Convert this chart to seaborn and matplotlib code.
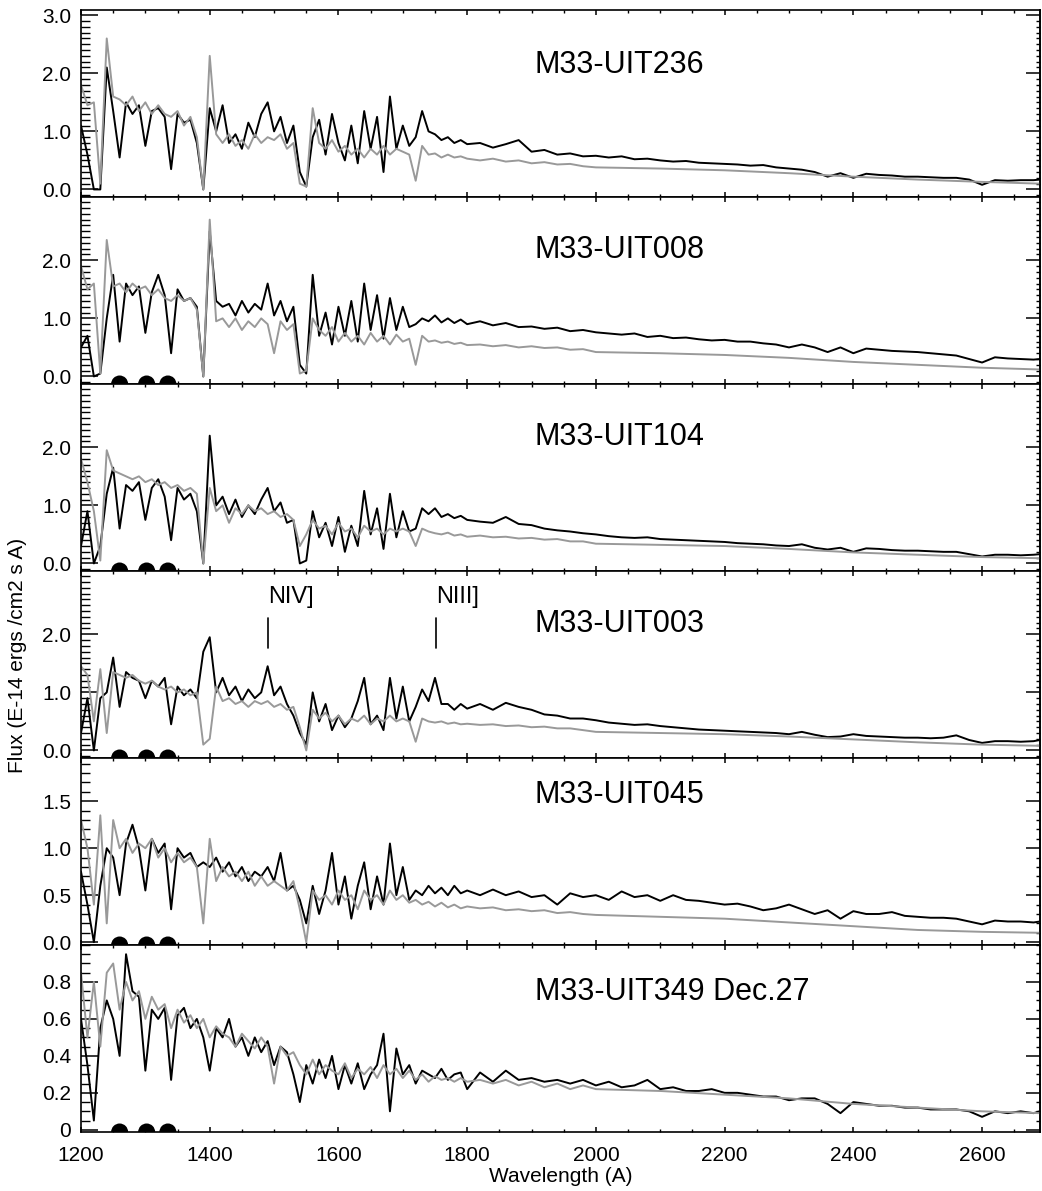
import numpy as np
import matplotlib
matplotlib.use("Agg")
import matplotlib.pyplot as plt
from matplotlib.ticker import MultipleLocator
import seaborn as sns

# wavelength grids (A): observed spectra run to 2690, model is noisy up to 2000 then smooth
wave_uv = np.arange(1200, 1801, 10)
wave_nuv = np.append(np.arange(1820, 2681, 20), 2690)
wave_obs = np.concatenate([wave_uv, wave_nuv])
wave_mod = np.concatenate([wave_uv, np.arange(1820, 2001, 20),
                           [2100, 2200, 2300, 2400, 2500, 2600, 2690]])

names = ["M33-UIT236", "M33-UIT008", "M33-UIT104", "M33-UIT003", "M33-UIT045", "M33-UIT349 Dec.27"]

# observed flux (black), E-14 ergs/cm2/s/A
obs_236 = [1.1, 0.6, 0.0, 0.0, 2.1, 1.35, 0.55, 1.5, 1.3, 1.45,
           0.75, 1.35, 1.4, 1.25, 0.35, 1.3, 1.15, 1.2, 0.8, 0.0,
           1.4, 1.0, 1.45, 0.8, 0.95, 0.7, 1.15, 0.9, 1.3, 1.5,
           1.0, 1.25, 0.8, 1.1, 0.3, 0.05, 0.9, 1.2, 0.6, 1.3,
           0.8, 0.5, 1.1, 0.45, 1.35, 0.7, 1.25, 0.3, 1.6, 0.7,
           1.1, 0.75, 0.9, 1.35, 1.0, 0.95, 0.85, 0.9, 0.8, 0.85,
           0.78,
           0.8, 0.72, 0.78, 0.85, 0.65, 0.68, 0.6, 0.62, 0.57, 0.58,
           0.55, 0.57, 0.52, 0.53, 0.5, 0.48, 0.49, 0.46, 0.45, 0.44,
           0.43, 0.41, 0.42, 0.38, 0.36, 0.34, 0.3, 0.22, 0.28, 0.2,
           0.27, 0.25, 0.24, 0.22, 0.22, 0.21, 0.2, 0.2, 0.17, 0.08,
           0.16, 0.15, 0.16, 0.16, 0.17]
obs_008 = [0.5, 0.7, 0.0, 0.05, 1.0, 1.75, 0.6, 1.6, 1.4, 1.55,
           0.75, 1.45, 1.75, 1.4, 0.4, 1.5, 1.3, 1.35, 1.2, 0.0,
           2.5, 1.3, 1.2, 1.25, 1.05, 1.3, 1.1, 1.25, 1.15, 1.6,
           1.05, 1.3, 0.95, 1.2, 0.2, 0.05, 1.75, 0.7, 1.1, 0.55,
           1.2, 0.7, 1.3, 0.6, 1.6, 0.8, 1.4, 0.65, 1.35, 0.8,
           1.2, 0.85, 0.9, 1.0, 0.95, 1.05, 0.93, 1.0, 0.92, 0.98,
           0.9,
           0.95, 0.88, 0.92, 0.85, 0.86, 0.82, 0.84, 0.78, 0.8, 0.76,
           0.74, 0.72, 0.74, 0.68, 0.7, 0.66, 0.67, 0.64, 0.62, 0.63,
           0.6, 0.6, 0.57, 0.55, 0.5, 0.55, 0.5, 0.42, 0.5, 0.4,
           0.48, 0.46, 0.44, 0.43, 0.42, 0.4, 0.38, 0.36, 0.3, 0.24,
           0.33, 0.31, 0.3, 0.29, 0.3]
obs_104 = [0.3, 0.9, 0.0, 0.3, 1.2, 1.65, 0.6, 1.35, 1.25, 1.4,
           0.75, 1.3, 1.45, 1.15, 0.4, 1.3, 1.1, 1.2, 0.9, 0.0,
           2.2, 1.0, 1.15, 0.85, 1.1, 0.8, 1.0, 0.85, 1.1, 1.3,
           0.9, 1.05, 0.7, 0.75, 0.0, 0.05, 0.9, 0.45, 0.7, 0.3,
           0.8, 0.2, 0.65, 0.3, 1.25, 0.5, 0.95, 0.25, 1.2, 0.45,
           0.9, 0.55, 0.6, 0.95, 0.85, 0.95, 0.8, 0.85, 0.78, 0.82,
           0.75,
           0.72, 0.7, 0.8, 0.68, 0.66, 0.6, 0.57, 0.55, 0.52, 0.5,
           0.47, 0.45, 0.44, 0.45, 0.42, 0.41, 0.4, 0.39, 0.38, 0.37,
           0.35, 0.34, 0.33, 0.31, 0.3, 0.33, 0.27, 0.24, 0.27, 0.2,
           0.26, 0.25, 0.23, 0.22, 0.22, 0.21, 0.2, 0.2, 0.16, 0.12,
           0.15, 0.15, 0.14, 0.15, 0.16]
obs_003 = [0.3, 0.9, 0.0, 0.9, 1.0, 1.6, 0.75, 1.35, 1.25, 1.2,
           0.9, 1.2, 1.1, 1.25, 0.45, 1.1, 0.95, 1.05, 0.9, 1.7,
           1.95, 1.0, 1.25, 0.95, 1.1, 0.85, 1.05, 0.9, 1.0, 1.45,
           0.95, 1.1, 0.8, 0.6, 0.3, 0.1, 1.0, 0.5, 0.8, 0.35,
           0.6, 0.4, 0.55, 0.85, 1.25, 0.45, 0.6, 0.35, 1.25, 0.55,
           1.1, 0.5, 0.75, 1.05, 0.85, 1.25, 0.8, 0.8, 0.7, 0.8,
           0.72,
           0.8, 0.7, 0.82, 0.75, 0.7, 0.62, 0.6, 0.55, 0.55, 0.52,
           0.48, 0.46, 0.44, 0.45, 0.42, 0.4, 0.38, 0.36, 0.35, 0.34,
           0.33, 0.32, 0.31, 0.3, 0.28, 0.32, 0.27, 0.23, 0.24, 0.28,
           0.25, 0.24, 0.23, 0.22, 0.22, 0.21, 0.22, 0.26, 0.18, 0.13,
           0.16, 0.16, 0.15, 0.16, 0.18]
obs_045 = [0.75, 0.4, 0.0, 0.6, 1.0, 0.9, 0.5, 1.05, 1.25, 1.0,
           0.55, 1.1, 0.95, 1.05, 0.35, 1.0, 0.9, 0.95, 0.8, 0.85,
           0.8, 0.9, 0.75, 0.85, 0.7, 0.8, 0.65, 0.75, 0.7, 0.8,
           0.65, 0.95, 0.55, 0.6, 0.45, 0.2, 0.6, 0.3, 0.55, 0.95,
           0.4, 0.7, 0.25, 0.6, 0.85, 0.35, 0.7, 0.4, 1.05, 0.5,
           0.8, 0.45, 0.55, 0.5, 0.6, 0.52, 0.58, 0.5, 0.6, 0.52,
           0.55,
           0.5, 0.56, 0.5, 0.54, 0.48, 0.5, 0.4, 0.52, 0.48, 0.5,
           0.45, 0.54, 0.48, 0.5, 0.44, 0.5, 0.45, 0.44, 0.42, 0.4,
           0.41, 0.38, 0.34, 0.36, 0.4, 0.35, 0.3, 0.34, 0.25, 0.33,
           0.3, 0.3, 0.32, 0.28, 0.27, 0.26, 0.26, 0.25, 0.22, 0.19,
           0.23, 0.22, 0.22, 0.21, 0.22]
obs_349 = [0.6, 0.35, 0.05, 0.55, 0.7, 0.6, 0.4, 0.95, 0.75, 0.72,
           0.32, 0.65, 0.6, 0.66, 0.27, 0.62, 0.66, 0.55, 0.6, 0.5,
           0.32, 0.55, 0.5, 0.6, 0.45, 0.5, 0.4, 0.5, 0.42, 0.48,
           0.35, 0.45, 0.42, 0.3, 0.15, 0.35, 0.25, 0.38, 0.28, 0.4,
           0.22, 0.35, 0.25, 0.36, 0.22, 0.3, 0.35, 0.52, 0.1, 0.44,
           0.3, 0.35, 0.25, 0.32, 0.3, 0.28, 0.33, 0.27, 0.3, 0.31,
           0.22,
           0.31, 0.26, 0.32, 0.27, 0.28, 0.26, 0.27, 0.25, 0.27, 0.24,
           0.26, 0.23, 0.24, 0.27, 0.22, 0.23, 0.21, 0.21, 0.22, 0.2,
           0.2, 0.19, 0.18, 0.18, 0.16, 0.17, 0.17, 0.14, 0.09, 0.15,
           0.14, 0.13, 0.13, 0.12, 0.12, 0.11, 0.11, 0.11, 0.1, 0.07,
           0.1, 0.09, 0.1, 0.09, 0.1]

# model flux (grey)
mod_236 = [1.8, 1.45, 1.5, 0.1, 2.6, 1.6, 1.55, 1.45, 1.6, 1.35,
           1.5, 1.3, 1.45, 1.3, 1.25, 1.35, 1.1, 1.25, 0.9, 0.0,
           2.3, 0.95, 0.8, 0.95, 0.75, 0.85, 0.7, 0.95, 0.8, 0.9,
           0.85, 0.95, 0.7, 0.8, 0.1, 0.05, 1.4, 0.8, 0.7, 0.85,
           0.65, 0.75, 0.6, 0.7, 0.55, 0.7, 0.6, 0.75, 0.6, 0.7,
           0.65, 0.6, 0.15, 0.75, 0.6, 0.62, 0.55, 0.6, 0.55, 0.57,
           0.53,
           0.5, 0.53, 0.48, 0.5, 0.45, 0.47, 0.43, 0.44, 0.4, 0.38,
           0.36, 0.33, 0.28, 0.22, 0.17, 0.13, 0.1]
mod_008 = [1.9, 1.5, 1.6, 0.05, 2.35, 1.55, 1.6, 1.45, 1.6, 1.5,
           1.55, 1.4, 1.5, 1.35, 1.3, 1.4, 1.3, 1.35, 1.15, 0.0,
           2.7, 0.95, 1.0, 0.85, 1.0, 0.8, 0.95, 0.85, 1.0, 0.9,
           0.4, 0.95, 0.8, 0.9, 0.05, 0.1, 1.0, 0.8, 0.7, 0.85,
           0.6, 0.75, 0.6, 0.7, 0.55, 0.75, 0.6, 0.7, 0.55, 0.72,
           0.6, 0.65, 0.2, 0.7, 0.6, 0.62, 0.58, 0.6, 0.56, 0.58,
           0.54,
           0.55, 0.52, 0.54, 0.5, 0.52, 0.49, 0.5, 0.46, 0.47, 0.42,
           0.4, 0.37, 0.32, 0.25, 0.2, 0.15, 0.12]
mod_104 = [1.8, 1.4, 0.9, 0.05, 1.95, 1.6, 1.55, 1.5, 1.45, 1.5,
           1.4, 1.45, 1.35, 1.4, 1.3, 1.35, 1.25, 1.3, 1.2, 0.0,
           1.3, 0.9, 1.0, 0.7, 0.95, 0.85, 1.0, 0.9, 0.95, 0.85,
           0.9, 0.8, 0.85, 0.75, 0.3, 0.5, 0.75, 0.6, 0.65, 0.5,
           0.7, 0.55, 0.6, 0.45, 0.65, 0.55, 0.6, 0.5, 0.6, 0.55,
           0.6, 0.55, 0.3, 0.6, 0.55, 0.52, 0.5, 0.53, 0.48, 0.5,
           0.46,
           0.48, 0.45, 0.46, 0.43, 0.44, 0.41, 0.42, 0.38, 0.38, 0.34,
           0.32, 0.3, 0.25, 0.19, 0.15, 0.11, 0.09]
mod_003 = [1.45, 1.3, 0.5, 1.4, 0.3, 1.35, 1.3, 1.25, 1.3, 1.2,
           1.15, 1.2, 1.1, 1.05, 1.1, 1.0, 1.05, 0.95, 1.0, 0.1,
           0.2, 1.1, 0.85, 0.9, 0.8, 0.85, 0.75, 0.85, 0.8, 0.85,
           0.75, 0.8, 0.7, 0.75, 0.4, 0.0, 0.7, 0.55, 0.65, 0.5,
           0.6, 0.45, 0.55, 0.5, 0.6, 0.45, 0.55, 0.5, 0.6, 0.5,
           0.55, 0.5, 0.15, 0.55, 0.5, 0.48, 0.5, 0.46, 0.48, 0.45,
           0.46,
           0.44, 0.45, 0.42, 0.43, 0.4, 0.41, 0.38, 0.38, 0.35, 0.32,
           0.3, 0.28, 0.24, 0.19, 0.14, 0.1, 0.08]
mod_045 = [1.3, 1.0, 0.4, 1.35, 0.2, 1.3, 1.0, 1.1, 0.95, 1.05,
           1.0, 1.1, 0.9, 1.0, 0.85, 0.95, 0.85, 0.9, 0.8, 0.2,
           1.1, 0.65, 0.8, 0.7, 0.75, 0.65, 0.75, 0.6, 0.7, 0.6,
           0.65, 0.6, 0.55, 0.65, 0.35, 0.0, 0.55, 0.45, 0.5, 0.4,
           0.55, 0.45, 0.5, 0.35, 0.55, 0.45, 0.5, 0.4, 0.55, 0.45,
           0.5, 0.42, 0.45, 0.4, 0.43, 0.38, 0.42, 0.37, 0.4, 0.36,
           0.38,
           0.36, 0.37, 0.34, 0.35, 0.33, 0.34, 0.31, 0.32, 0.3, 0.29,
           0.27, 0.25, 0.21, 0.17, 0.13, 0.11, 0.1]
mod_349 = [0.85, 0.5, 0.8, 0.45, 0.85, 0.9, 0.65, 0.8, 0.7, 0.75,
           0.6, 0.72, 0.65, 0.68, 0.55, 0.65, 0.58, 0.62, 0.55, 0.6,
           0.5, 0.56, 0.52, 0.5, 0.45, 0.52, 0.48, 0.44, 0.5, 0.45,
           0.25, 0.45, 0.4, 0.42, 0.35, 0.3, 0.38, 0.3, 0.35, 0.32,
           0.3, 0.36, 0.28, 0.33, 0.3, 0.34, 0.28, 0.35, 0.3, 0.33,
           0.28, 0.32, 0.27, 0.3, 0.26, 0.29, 0.27, 0.28, 0.26, 0.28,
           0.26,
           0.27, 0.25, 0.27, 0.24, 0.26, 0.23, 0.25, 0.22, 0.24, 0.22,
           0.21, 0.19, 0.17, 0.14, 0.12, 0.1, 0.09]

obs = [obs_236, obs_008, obs_104, obs_003, obs_045, obs_349]
mod = [mod_236, mod_008, mod_104, mod_003, mod_045, mod_349]

# interstellar lines marked with dots, and the nitrogen lines in UIT003
ism_lines = [1260, 1302, 1335]
n_lines = [1490, 1752]
n_labels = ["NIV]", "NIII]"]

# axis setup per panel
ylims = [(-0.13, 3.09)] * 4 + [(-0.03, 1.96), (-0.012, 1.0)]
yticks = [[0, 1, 2, 3], [0, 1, 2], [0, 1, 2], [0, 1, 2], [0, 0.5, 1.0, 1.5], [0, 0.2, 0.4, 0.6, 0.8]]
ylabels = [["0.0", "1.0", "2.0", "3.0"], ["0.0", "1.0", "2.0"], ["0.0", "1.0", "2.0"],
           ["0.0", "1.0", "2.0"], ["0.0", "0.5", "1.0", "1.5"], ["0", "0.2", "0.4", "0.6", "0.8"]]
yminor = [0.1, 0.1, 0.1, 0.1, 0.1, 0.05]
name_y = [2.15, 2.18, 2.18, 2.18, 1.57, 0.745]

sns.set_theme(style="ticks")
plt.rcParams["font.family"] = ["Liberation Sans", "DejaVu Sans"]
plt.rcParams["axes.linewidth"] = 1.2
plt.rcParams["axes.edgecolor"] = "black"
for key in ["text.color", "axes.labelcolor", "xtick.color", "ytick.color"]:
    plt.rcParams[key] = "black"

fig, axes = plt.subplots(6, 1, sharex=True, figsize=(10.42, 11.91), dpi=100)
fig.subplots_adjust(left=81/1042, right=1040/1042, top=1-10/1191, bottom=1-1132/1191, hspace=0)

for i, ax in enumerate(axes):
    sns.lineplot(x=wave_obs, y=obs[i], color="black", lw=1.4, ax=ax, estimator=None, sort=False)
    sns.lineplot(x=wave_mod, y=mod[i], color="0.6", lw=1.4, ax=ax, estimator=None, sort=False)
    lo, hi = ylims[i]
    if i > 0:
        sns.scatterplot(x=ism_lines, y=[lo] * len(ism_lines), color="black", s=150,
                        edgecolor="none", ax=ax, zorder=5)
    ax.set_xlim(1200, 2690)
    ax.set_ylim(lo, hi)
    ax.set_ylabel("")
    ax.text(1905, name_y[i], names[i], fontsize=22, va="center", ha="left")

    ax.xaxis.set_major_locator(MultipleLocator(200))
    ax.xaxis.set_minor_locator(MultipleLocator(50))
    ax.set_yticks(yticks[i], labels=ylabels[i])
    ax.yaxis.set_minor_locator(MultipleLocator(yminor[i]))
    ax.tick_params(axis="x", which="major", direction="in", top=True, bottom=True,
                   length=3.5, width=1.1, labelsize=15, pad=10)
    ax.tick_params(axis="x", which="minor", direction="in", top=True, bottom=True,
                   length=2, width=1)
    ax.tick_params(axis="y", which="major", direction="in", left=True, right=False,
                   length=12, width=1.1, labelsize=15, pad=7)
    ax.tick_params(axis="y", which="minor", direction="in", left=True, right=False,
                   length=6.5, width=1)

    sec = ax.secondary_yaxis("right")
    sec.set_yticks(yticks[i])
    sec.yaxis.set_minor_locator(MultipleLocator(yminor[i]))
    sec.tick_params(which="major", direction="in", length=10, width=1.1, labelright=False)
    sec.tick_params(which="minor", direction="in", length=3, width=1)

# nitrogen line marks in the UIT003 panel
ax4 = axes[3]
for wl, lab in zip(n_lines, n_labels):
    ax4.plot([wl, wl], [1.76, 2.28], color="black", lw=1.2)
    ax4.text(wl, 2.45, lab, fontsize=17, ha="left", va="bottom")

fig.text(18/1042, 1 - 655/1191, "Flux (E-14 ergs /cm2 s A)", rotation=90,
         ha="center", va="center", fontsize=15)
fig.text((81 + 1040) / 2 / 1042, 1 - 1177/1191, "Wavelength (A)",
         ha="center", va="center", fontsize=15)

plt.savefig("out.png", dpi=100)
